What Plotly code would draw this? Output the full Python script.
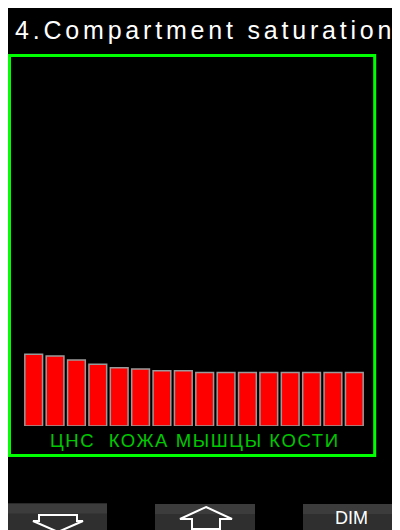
import plotly.graph_objects as go

# ---- data ----
compartments = [str(i) for i in range(1, 17)]
saturation = [19.6, 19.1, 18.0, 16.9, 15.9, 15.6, 15.1, 15.1,
              14.6, 14.6, 14.6, 14.6, 14.6, 14.6, 14.6, 14.6]
title_text = "4.Compartment saturation"
group_label = "ЦНС\u00a0 КОЖА МЫШЦЫ КОСТИ"
button_label = "DIM"

# ---- geometry (page pixels; the page body adds an 8px offset) ----
OFF = 8
W, H = 400, 530
L, R, T, B = 23 - OFF, 35 + OFF, 60 - OFF, 104 + OFF
PW, PH = W - L - R, H - T - B


def fx(px):
    return (px - OFF - L) / PW


def fy(py):
    return (T + PH - (py - OFF)) / PH


def path(points):
    s = "M " + " L ".join(f"{fx(x):.5f},{fy(y):.5f}" for x, y in points)
    return s + " Z"


fig = go.Figure(go.Bar(
    x=compartments, y=saturation,
    marker=dict(color="#ff0000", line=dict(color="#9a9a9a", width=1.5)),
    hoverinfo="skip",
))

shapes = []
# green frame
shapes.append(dict(type="rect", xref="paper", yref="paper", x0=fx(9.5), x1=fx(374.7), y0=fy(455.5), y1=fy(55.5),
                   fillcolor="rgba(0,0,0,0)", line=dict(color="#00ff00", width=3)))
# buttons
for (x0, x1, y0) in [(8, 107, 503.5), (155, 255, 504), (303, 410, 504)]:
    shapes.append(dict(type="rect", xref="paper", yref="paper", x0=fx(x0), x1=fx(x1), y0=fy(540), y1=fy(y0),
                       fillcolor="#2f2f2f", line=dict(width=0)))
    shapes.append(dict(type="rect", xref="paper", yref="paper", x0=fx(x0), x1=fx(x1), y0=fy(y0 + 10), y1=fy(y0),
                       fillcolor="#3c3c3c", line=dict(width=0)))
# arrows
down = [(39, 515), (77, 515), (77, 521), (83, 521), (58, 532), (33, 521), (39, 521)]
up = [(206, 507), (232, 519), (220, 519), (220, 529), (192, 529), (192, 519), (180, 519)]
for pts in (down, up):
    shapes.append(dict(type="path", xref="paper", yref="paper", path=path(pts),
                       fillcolor="rgba(0,0,0,0)", line=dict(color="white", width=2)))

annotations = [
    dict(text=f'<span style="letter-spacing:3.8px">{title_text}</span>', xref="paper", yref="paper",
         x=fx(13), y=fy(30), xanchor="left", yanchor="middle", showarrow=False,
         font=dict(family="Liberation Sans", size=25, color="white")),
    dict(text=f'<span style="letter-spacing:1.6px">{group_label}</span>', xref="paper", yref="paper",
         x=fx(195), y=fy(440), xanchor="center", yanchor="middle", showarrow=False,
         font=dict(family="Liberation Sans", size=18.5, color="#00c800")),
    dict(text=button_label, xref="paper", yref="paper",
         x=fx(351.5), y=fy(518), xanchor="center", yanchor="middle", showarrow=False,
         font=dict(family="Liberation Sans", size=18, color="white")),
]

fig.update_layout(
    width=W, height=H,
    margin=dict(l=L, r=R, t=T, b=B, pad=0),
    paper_bgcolor="black", plot_bgcolor="black",
    bargap=0.17,
    showlegend=False,
    xaxis=dict(range=[-0.5, 15.5], visible=False, fixedrange=True),
    yaxis=dict(range=[0, 100], visible=False, fixedrange=True),
    shapes=shapes,
    annotations=annotations,
)

fig.write_html("out.html", config={"displayModeBar": False})
